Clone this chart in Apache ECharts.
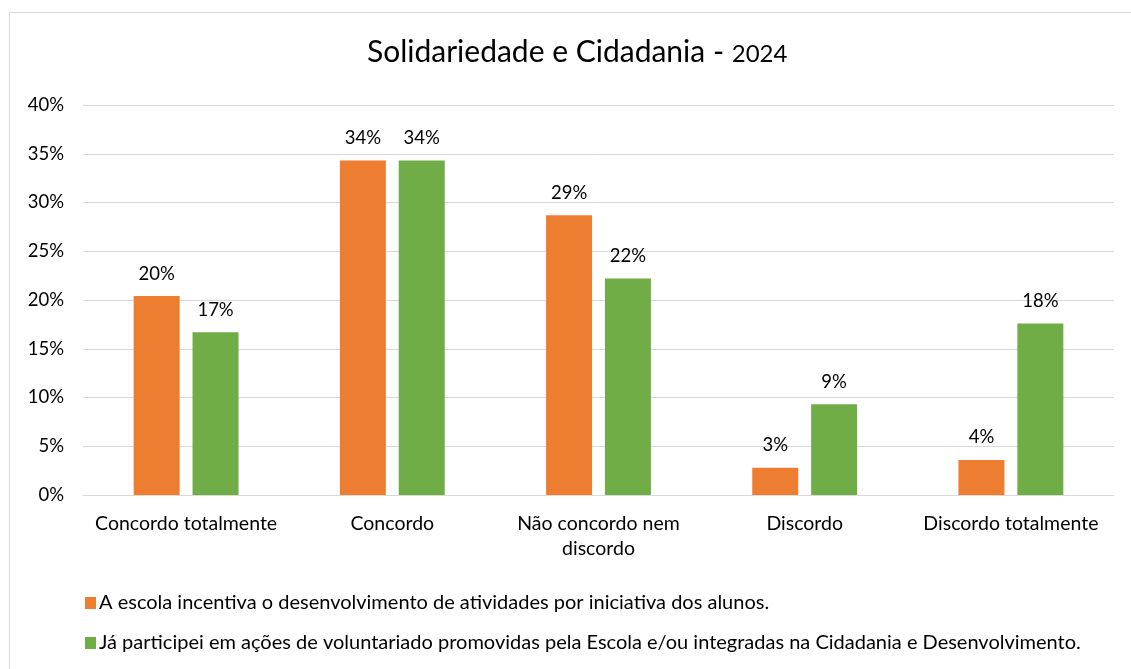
<!DOCTYPE html>
<html>
<head>
<meta charset="utf-8">
<script src="https://cdn.jsdelivr.net/npm/echarts@6/dist/echarts.min.js"></script>
<style>
  html, body { margin: 0; padding: 0; background: #fff; }
  #chart { width: 1131px; height: 669px; }
</style>
</head>
<body>
<div id="chart"></div>
<script>
var categories = ['Concordo totalmente', 'Concordo', 'Não concordo nem\ndiscordo', 'Discordo', 'Discordo totalmente'];
var seriesNames = [
    'A escola incentiva o desenvolvimento de atividades por iniciativa dos alunos.',
    'Já participei em ações de voluntariado promovidas pela Escola e/ou integradas na Cidadania e Desenvolvimento.'
];
var escolaIncentiva = [20.4, 34.3, 28.7, 2.8, 3.6];
var jaParticipei = [16.7, 34.3, 22.2, 9.3, 17.6];

var font = 'Lato';
var myChart = echarts.init(document.getElementById('chart'));
option = {
    textStyle: { fontFamily: font },
    title: {
        text: '{a|Solidariedade e Cidadania - }{b|2024}',
        left: 362,
        top: 32,
        textStyle: {
            fontWeight: 'normal',
            rich: {
                a: { fontFamily: font, fontSize: 30, fontWeight: 'normal', color: '#000' },
                b: { fontFamily: font, fontSize: 24, fontWeight: 'normal', color: '#000', padding: [4, 0, 0, 0] }
            }
        }
    },
    graphic: [{
        type: 'rect',
        shape: { x: 9.5, y: 12.5, width: 1140, height: 700 },
        style: { fill: 'none', stroke: '#d9d9d9', lineWidth: 1 },
        silent: true
    }],
    legend: {
        orient: 'vertical',
        left: 80,
        top: 588,
        itemGap: 20,
        itemWidth: 11,
        itemHeight: 12,
        icon: 'rect',
        textStyle: { fontFamily: font, fontSize: 20, color: '#000', padding: [0, 0, 0, -2] },
        data: seriesNames
    },
    grid: { left: 83, right: 17, top: 105, height: 390, containLabel: false },
    xAxis: {
        type: 'category',
        data: categories,
        axisLine: { lineStyle: { color: '#d9d9d9', width: 1 } },
        axisTick: { show: false },
        axisLabel: { color: '#000', fontSize: 19.5, fontFamily: font, margin: 16, lineHeight: 25, interval: 0 }
    },
    yAxis: {
        type: 'value',
        min: 0,
        max: 40,
        interval: 5,
        axisLine: { show: false },
        axisTick: { show: false },
        axisLabel: { color: '#000', fontSize: 18.5, fontFamily: font, margin: 19, formatter: '{value}%' },
        splitLine: { lineStyle: { color: '#d9d9d9', width: 1 } }
    },
    series: [
        {
            name: seriesNames[0],
            type: 'bar',
            data: escolaIncentiva,
            barWidth: 46,
            barGap: '28%',
            itemStyle: { color: '#ed7d31' },
            label: {
                show: true, position: 'top', distance: 13,
                color: '#000', fontSize: 18.5, fontFamily: font,
                formatter: function (p) { return Math.round(p.value) + '%'; }
            }
        },
        {
            name: seriesNames[1],
            type: 'bar',
            data: jaParticipei,
            barWidth: 46,
            itemStyle: { color: '#70ad47' },
            label: {
                show: true, position: 'top', distance: 13,
                color: '#000', fontSize: 18.5, fontFamily: font,
                formatter: function (p) { return Math.round(p.value) + '%'; }
            }
        }
    ]
};
myChart.setOption(option);
</script>
</body>
</html>
